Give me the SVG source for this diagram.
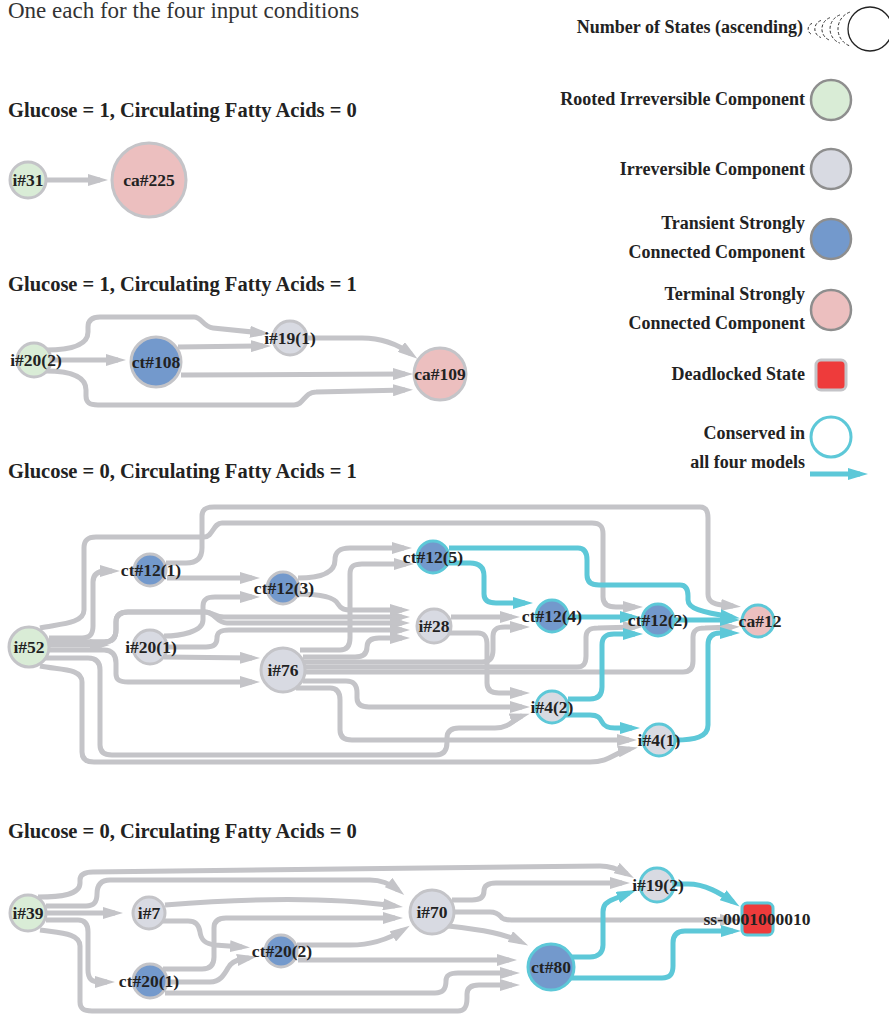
<svg xmlns="http://www.w3.org/2000/svg" width="889" height="1016" viewBox="0 0 889 1016">
  <style>
    text { font-family: "Liberation Serif", "DejaVu Serif", serif; fill: #222; }
    .title { font-size: 23px; fill: #333; }
    .head { font-size: 20.5px; font-weight: bold; }
    .leg { font-size: 18px; font-weight: bold; text-anchor: end; }
    .lbl { font-size: 17.5px; font-weight: bold; text-anchor: middle; }
    .e { fill: none; stroke: #c4c4c8; stroke-width: 5; marker-end: url(#ag); }
    .c { fill: none; stroke: #5dc8d8; stroke-width: 5; marker-end: url(#ac); }
    .n { stroke: #c4c4c8; stroke-width: 3; }
    .cons { stroke: #5dc8d8; stroke-width: 3; }
    .lg { stroke: #8e8e8e; stroke-width: 2.5; }
    .root { fill: #d9ecd6; }
    .irr { fill: #d8dae2; }
    .tscc { fill: #7399cc; }
    .term { fill: #ecbfbf; }
    .dead { fill: #ee3b3b; }
    .dash { fill: none; stroke: #333; stroke-width: 1; stroke-dasharray: 3 2; }
  </style>
  <defs>
    <marker id="ag" viewBox="0 0 20 12" refX="12" refY="6" markerWidth="20" markerHeight="12" orient="auto" markerUnits="userSpaceOnUse">
      <path d="M0,0 L20,6 L0,12 z" fill="#c4c4c8"/>
    </marker>
    <marker id="ac" viewBox="0 0 20 12" refX="12" refY="6" markerWidth="20" markerHeight="12" orient="auto" markerUnits="userSpaceOnUse">
      <path d="M0,0 L20,6 L0,12 z" fill="#5dc8d8"/>
    </marker>
  </defs>

  <rect width="889" height="1016" fill="#fff"/>

  <!-- headings -->
  <text class="title" x="8" y="18">One each for the four input conditions</text>
  <text class="head" x="8" y="117">Glucose = 1, Circulating Fatty Acids = 0</text>
  <text class="head" x="8" y="291">Glucose = 1, Circulating Fatty Acids = 1</text>
  <text class="head" x="8" y="478">Glucose = 0, Circulating Fatty Acids = 1</text>
  <text class="head" x="8" y="838">Glucose = 0, Circulating Fatty Acids = 0</text>

  <!-- legend -->
  <g id="legend">
    <text class="leg" x="803" y="33">Number of States (ascending)</text>
    <path class="dash" d="M812,23.4 A6,6 0 0 0 812,34.6"/>
    <path class="dash" d="M820.9,20.5 A9,9 0 0 0 820.9,37.5"/>
    <path class="dash" d="M829.9,17.7 A12,12 0 0 0 829.9,40.3"/>
    <path class="dash" d="M839.9,14.9 A15,15 0 0 0 839.9,43.1"/>
    <path class="dash" d="M849.8,12.1 A18,18 0 0 0 849.8,45.9"/>
    <circle cx="870" cy="29" r="22" fill="#fff" stroke="#222" stroke-width="1.3"/>

    <text class="leg" x="805" y="105">Rooted Irreversible Component</text>
    <circle class="root lg" cx="831" cy="100" r="20"/>

    <text class="leg" x="805" y="175">Irreversible Component</text>
    <circle class="irr lg" cx="831" cy="169" r="20"/>

    <text class="leg" x="805" y="229">Transient Strongly</text>
    <text class="leg" x="805" y="258">Connected Component</text>
    <circle class="tscc lg" cx="831" cy="239" r="20"/>

    <text class="leg" x="805" y="300">Terminal Strongly</text>
    <text class="leg" x="805" y="329">Connected Component</text>
    <circle class="term lg" cx="831" cy="310" r="20"/>

    <text class="leg" x="805" y="380">Deadlocked State</text>
    <rect class="dead" x="816" y="360" width="30" height="30" rx="5" stroke="#c4c4c8" stroke-width="3"/>

    <text class="leg" x="805" y="439">Conserved in</text>
    <text class="leg" x="805" y="468">all four models</text>
    <circle cx="831" cy="437" r="20" fill="#fff" class="cons"/>
    <path class="c" d="M810,474 L860,474"/>
  </g>

  <!-- connectors -->
  <g id="connectors">
    <!-- Glucose = 1, CFA = 0 -->
    <path class="e" d="M46,180 L100,180"/>

    <!-- Glucose = 1, CFA = 1 -->
    <path class="e" d="M46,350 C70,350 88,346 88,332 L88,327 C88,320 92,317 100,317 L194,317 C202,317 203,327 213,328 L262,333"/>
    <path class="e" d="M51,360 L118,360"/>
    <path class="e" d="M46,371 C70,371 86,376 86,390 L86,396 C86,403 90,405 98,405 L294,405 C304,405 304,392 316,392 L405,390"/>
    <path class="e" d="M178,347 L263,346"/>
    <path class="e" d="M181,375 L405,374"/>
    <path class="e" d="M307,338 L362,338 C385,338 400,346 411,354"/>

    <!-- Glucose = 0, CFA = 1 -->
    <path class="e" d="M40,628 C58,624 84,624 84,610 L84,548 C84,540 88,537 96,537 L204,537 C213,537 213,523 222,523 L592,523 C600,523 603,526 603,534 L603,597 C603,604 608,607 616,607 L635,607"/>
    <path class="e" d="M49,638 L82,638 C90,638 93,634 93,626 L93,582 C93,574 98,571 106,571 L112,571"/>
    <path class="e" d="M166,563 L186,563 C197,563 202,558 202,548 L202,516 C202,509 206,507 214,507 L700,507 C706,507 708,511 708,518 L708,594 C708,602 714,604 722,605 L733,606"/>
    <path class="e" d="M167,578 L252,578"/>
    <path class="e" d="M49,645 L102,645"/>
    <path class="e" d="M49,642 L104,642 C112,642 116,638 116,630 L116,622 C116,615 120,612 128,612 L205,612 C213,612 215,617 224,617 L402,617"/>
    <path class="e" d="M49,642 L104,642 C112,642 116,638 116,630 L116,622 C116,615 120,612 128,612 L205,612 C215,612 216,623 227,623 L402,623"/>
    <path class="e" d="M49,650 L104,650 C112,650 116,655 116,663 L116,674 C116,680 120,682 128,682 L252,682"/>
    <path class="e" d="M45,658 L88,658 C96,658 100,662 100,670 L100,745 C100,752 104,755 112,755 L436,755 C444,755 447,750 447,742 L447,738 C447,731 451,728 459,728 L495,728 C510,728 515,718 522,716"/>
    <path class="e" d="M40,666 C60,670 82,668 82,682 L82,752 C82,759 86,762 94,762 L590,762 C610,762 615,752 630,749"/>
    <path class="e" d="M164,636 C180,636 203,632 203,620 L203,606 C203,599 207,597 215,597 L252,597"/>
    <path class="e" d="M166,647 L206,647 C214,647 217,644 217,638 C217,632 221,630 229,630 L402,630"/>
    <path class="e" d="M164,657 L252,658"/>
    <path class="e" d="M298,578 C322,578 335,572 335,560 C335,551 340,548 350,548 L404,548"/>
    <path class="e" d="M297,594 C322,594 335,598 338,604 C341,609 344,610 352,610 L402,610"/>
    <path class="e" d="M300,650 L340,650 C347,650 350,646 350,638 L350,574 C350,566 354,564 362,564 L406,564"/>
    <path class="e" d="M303,657 L355,657 C363,657 367,654 367,647 C367,641 371,638 379,638 L402,638"/>
    <path class="e" d="M304,662 L482,662 C490,662 493,658 493,650 L493,636 C493,629 497,627 505,627 L522,627"/>
    <path class="e" d="M305,667 L577,667 C584,667 586,663 586,656 L586,637 C586,630 590,628 598,628 L635,627"/>
    <path class="e" d="M305,672 L683,672 C690,672 693,668 693,661 L693,637 C693,630 697,628 705,628 L732,627"/>
    <path class="e" d="M303,681 L346,681 C354,681 357,685 357,693 L357,698 C357,704 361,707 369,707 L522,707"/>
    <path class="e" d="M296,688 L330,688 C337,688 340,692 340,700 L340,730 C340,737 344,740 352,740 L629,740"/>
    <path class="e" d="M451,617 L512,617"/>
    <path class="e" d="M450,633 L478,633 C485,633 487,637 487,645 L487,683 C487,690 491,693 499,693 L522,693"/>

    <path class="c" d="M449,548 L578,548 C585,548 587,553 587,560 L587,575 C587,582 591,585 599,585 L680,585 C686,585 688,590 688,596 L688,600 C688,608 700,612 732,617"/>
    <path class="c" d="M447,563 L470,563 C480,563 484,568 484,576 L484,594 C484,600 488,603 496,603 L525,603"/>
    <path class="c" d="M568,617 L632,617"/>
    <path class="c" d="M674,620 L732,620"/>
    <path class="c" d="M568,699 L590,699 C598,699 602,695 602,687 L602,645 C602,637 606,634 614,634 L635,634"/>
    <path class="c" d="M566,715 L590,715 C598,715 600,718 602,722 C604,726 607,728 615,728 L632,728"/>
    <path class="c" d="M675,740 C695,740 708,737 708,725 L708,645 C708,637 712,633 720,633 L732,633"/>

    <!-- Glucose = 0, CFA = 0 -->
    <path class="e" d="M38,897 C60,897 80,895 80,883 L80,880 C80,874 85,872 93,872 L600,866 C612,866 620,870 627,874"/>
    <path class="e" d="M46,906 L86,906 C94,906 97,902 97,894 C97,884 102,880 110,880 L370,880 C385,880 393,886 398,890"/>
    <path class="e" d="M47,913 L115,913"/>
    <path class="e" d="M46,920 L78,920 C85,920 88,924 88,932 L88,970 C88,978 91,982 99,982 L107,982"/>
    <path class="e" d="M40,930 C60,933 80,933 80,946 L80,1002 C80,1009 84,1011 92,1011 L458,1011 C465,1011 467,1006 467,998 L467,994 C467,988 471,985 479,985 L512,985"/>
    <path class="e" d="M165,905 C250,898 330,897 395,906"/>
    <path class="e" d="M163,921 L188,921 C196,921 199,925 200,932 C201,940 205,944 215,945 L242,947"/>
    <path class="e" d="M163,969 L202,969 C210,969 214,965 214,957 L214,928 C214,921 218,918 226,918 L395,918"/>
    <path class="e" d="M167,982 L210,982 C220,982 224,975 228,968 C231,962 236,960 243,959 L249,958"/>
    <path class="e" d="M297,945 L350,945 C375,945 392,937 403,930"/>
    <path class="e" d="M298,960 L509,960"/>
    <path class="e" d="M165,993 L435,993 C443,993 446,989 446,981 C446,975 450,973 458,973 L512,973"/>
    <path class="e" d="M452,900 L472,900 C480,900 484,897 484,891 C484,886 488,883 496,883 L622,883"/>
    <path class="e" d="M455,912 L490,912 C498,912 500,916 502,918 C505,920 508,920 516,920 L732,920"/>
    <path class="e" d="M448,926 C485,930 505,934 521,942"/>

    <path class="c" d="M571,957 L590,957 C598,957 603,953 603,945 L603,912 C603,905 606,902 614,899 L629,893"/>
    <path class="c" d="M571,978 L662,978 C670,978 673,974 673,966 L673,943 C673,935 677,931 685,931 L733,931"/>
    <path class="c" d="M673,884 L688,884 C705,884 720,893 733,902"/>
  </g>

  <!-- Glucose = 1, CFA = 0 -->
  <g id="g1-i31"><circle class="root n" cx="28" cy="180" r="18"/><text class="lbl" x="28" y="186">i#31</text></g>
  <g id="g1-ca225"><circle class="term n" cx="149" cy="180" r="37"/><text class="lbl" x="149" y="186">ca#225</text></g>

  <!-- Glucose = 1, CFA = 1 -->
  <g id="g2-i20-2"><circle class="root n" cx="34" cy="360" r="17"/><text class="lbl" x="36" y="366">i#20(2)</text></g>
  <g id="g2-ct108"><circle class="tscc n" cx="156" cy="362" r="25"/><text class="lbl" x="156" y="368">ct#108</text></g>
  <g id="g2-i19-1"><circle class="irr n" cx="290" cy="338" r="17"/><text class="lbl" x="290" y="344">i#19(1)</text></g>
  <g id="g2-ca109"><circle class="term n" cx="440" cy="374" r="26"/><text class="lbl" x="440" y="380">ca#109</text></g>

  <!-- Glucose = 0, CFA = 1 -->
  <g id="g3-i52"><circle class="root n" cx="29" cy="647" r="20"/><text class="lbl" x="29" y="653">i#52</text></g>
  <g id="g3-ct12-1"><circle class="tscc n" cx="150" cy="570" r="16"/><text class="lbl" x="151" y="576">ct#12(1)</text></g>
  <g id="g3-ct12-3"><circle class="tscc n" cx="283" cy="588" r="16"/><text class="lbl" x="284" y="594">ct#12(3)</text></g>
  <g id="g3-i20-1"><circle class="irr n" cx="150" cy="647" r="17"/><text class="lbl" x="151" y="653">i#20(1)</text></g>
  <g id="g3-i76"><circle class="irr n" cx="283" cy="670" r="22"/><text class="lbl" x="283" y="676">i#76</text></g>
  <g id="g3-ct12-5"><circle class="tscc cons" cx="433" cy="557" r="16"/><text class="lbl" x="433" y="563">ct#12(5)</text></g>
  <g id="g3-i28"><circle class="irr n" cx="434" cy="626" r="17"/><text class="lbl" x="434" y="632">i#28</text></g>
  <g id="g3-ct12-4"><circle class="tscc cons" cx="552" cy="616" r="16"/><text class="lbl" x="552" y="622">ct#12(4)</text></g>
  <g id="g3-ct12-2"><circle class="tscc cons" cx="658" cy="620" r="16"/><text class="lbl" x="658" y="626">ct#12(2)</text></g>
  <g id="g3-ca12"><circle class="term cons" cx="758" cy="621" r="16"/><text class="lbl" x="760" y="627">ca#12</text></g>
  <g id="g3-i4-2"><circle class="irr cons" cx="552" cy="707" r="16"/><text class="lbl" x="552" y="713">i#4(2)</text></g>
  <g id="g3-i4-1"><circle class="irr cons" cx="659" cy="740" r="16"/><text class="lbl" x="659" y="746">i#4(1)</text></g>

  <!-- Glucose = 0, CFA = 0 -->
  <g id="g4-i39"><circle class="root n" cx="28" cy="913" r="18"/><text class="lbl" x="28" y="919">i#39</text></g>
  <g id="g4-i7"><circle class="irr n" cx="149" cy="913" r="16"/><text class="lbl" x="149" y="919">i#7</text></g>
  <g id="g4-ct20-2"><circle class="tscc n" cx="281" cy="951" r="16"/><text class="lbl" x="282" y="957">ct#20(2)</text></g>
  <g id="g4-ct20-1"><circle class="tscc n" cx="150" cy="981" r="17"/><text class="lbl" x="149" y="987">ct#20(1)</text></g>
  <g id="g4-i70"><circle class="irr n" cx="432" cy="912" r="22"/><text class="lbl" x="432" y="918">i#70</text></g>
  <g id="g4-ct80"><circle class="tscc cons" cx="551" cy="967" r="23"/><text class="lbl" x="551" y="973">ct#80</text></g>
  <g id="g4-i19-2"><circle class="irr cons" cx="657" cy="885" r="17"/><text class="lbl" x="658" y="891">i#19(2)</text></g>
  <g id="g4-ss"><rect class="dead cons" x="742" y="903" width="31" height="32" rx="5"/><text class="lbl" x="757" y="925">ss-0001000010</text></g>
</svg>
